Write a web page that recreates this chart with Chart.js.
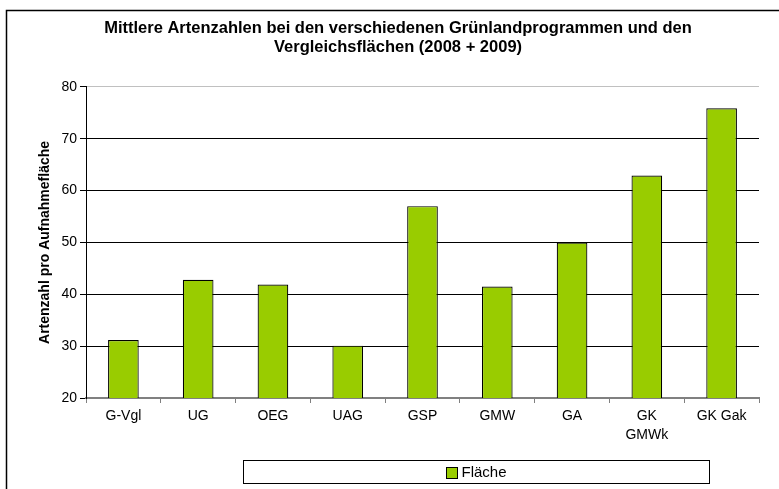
<!DOCTYPE html>
<html>
<head>
<meta charset="utf-8">
<script src="https://cdn.jsdelivr.net/npm/chart.js@4.4.1/dist/chart.umd.min.js"></script>
<style>
  body { margin: 0; background: #fff; }
  #wrap { width: 779px; height: 489px; }
</style>
</head>
<body>
<div id="wrap"><canvas id="artenChart" width="779" height="489"></canvas></div>
<script>
const categories = ['G-Vgl', 'UG', 'OEG', 'UAG', 'GSP', 'GMW', 'GA', ['GK', 'GMWk'], 'GK Gak'];
const flaecheValues = [31.2, 42.8, 41.9, 30.1, 57.0, 41.5, 50.0, 62.9, 75.9];
const yTicks = [20, 30, 40, 50, 60, 70, 80];
const seriesLabel = 'Fläche';
const barColor = '#99CC00';

document.addEventListener('DOMContentLoaded', function() {
    const font = 'Arial, "Liberation Sans", sans-serif';

    // white background + the outer frame of the chart object
    const framePlugin = {
        id: 'frame',
        beforeDraw: function(chart) {
            const ctx = chart.ctx;
            ctx.save();
            ctx.fillStyle = '#fff';
            ctx.fillRect(0, 0, chart.width, chart.height);
            ctx.strokeStyle = '#000';
            ctx.lineWidth = 1.5;
            ctx.beginPath();
            ctx.moveTo(6.5, chart.height);
            ctx.lineTo(6.5, 10.5);
            ctx.lineTo(chart.width, 10.5);
            ctx.stroke();
            ctx.restore();
        }
    };

    // legend in a box below the chart, like the original
    const boxLegend = {
        id: 'boxLegend',
        afterDraw: function(chart) {
            const ctx = chart.ctx;
            const ds = chart.data.datasets[0];
            const box = { x: 243.5, y: 460.5, w: 466, h: 23 };
            ctx.save();
            ctx.strokeStyle = '#000';
            ctx.lineWidth = 1;
            ctx.strokeRect(box.x, box.y, box.w, box.h);
            ctx.font = '15px ' + font;
            const tw = ctx.measureText(ds.label).width;
            const sw = 11;
            const total = sw + 4 + tw;
            const sx = Math.round(box.x + box.w / 2 - total / 2) + 0.5;
            const sy = Math.round(box.y + box.h / 2 - sw / 2) + 0.5;
            ctx.fillStyle = ds.backgroundColor;
            ctx.fillRect(sx, sy, sw, sw);
            ctx.strokeRect(sx, sy, sw, sw);
            ctx.fillStyle = '#000';
            ctx.textBaseline = 'middle';
            ctx.fillText(ds.label, sx + sw + 4, box.y + box.h / 2 + 1);
            ctx.restore();
        }
    };

    const ctx = document.getElementById('artenChart').getContext('2d');
    new Chart(ctx, {
        type: 'bar',
        data: {
            labels: categories,
            datasets: [{
                label: seriesLabel,
                data: flaecheValues,
                backgroundColor: barColor,
                borderColor: '#000',
                borderWidth: 1.2,
                borderSkipped: false,
                barPercentage: 0.41,
                categoryPercentage: 1.0
            }]
        },
        options: {
            responsive: false,
            animation: false,
            layout: { padding: { left: 37, right: 20, top: 0, bottom: 0 } },
            plugins: {
                legend: { display: false },
                tooltip: { enabled: false },
                title: {
                    display: true,
                    text: ['Mittlere Artenzahlen bei den verschiedenen Grünlandprogrammen und den',
                           'Vergleichsflächen (2008 + 2009)'],
                    color: '#000',
                    font: { family: font, size: 16.5, weight: 'bold', lineHeight: 1.21 },
                    padding: { top: 18, bottom: 29 }
                }
            },
            scales: {
                x: {
                    afterFit: function(scale) { scale.height = 91; },
                    grid: {
                        offset: true,
                        drawOnChartArea: false,
                        tickLength: 5,
                        tickColor: '#808080'
                    },
                    border: { color: '#808080', width: 2 },
                    ticks: {
                        color: '#000',
                        padding: 3,
                        maxRotation: 0,
                        autoSkip: false,
                        font: { family: font, size: 14, lineHeight: 1.4 }
                    }
                },
                y: {
                    min: 20,
                    max: 80,
                    afterFit: function(scale) { scale.width = 49; },
                    afterBuildTicks: function(scale) {
                        scale.ticks = yTicks.map(function(v) { return { value: v }; });
                    },
                    grid: {
                        color: function(c) { return c.tick && c.tick.value === 80 ? '#c0c0c0' : '#000'; },
                        tickColor: '#000',
                        tickLength: 6
                    },
                    border: { color: '#000', width: 1 },
                    ticks: {
                        color: '#000',
                        padding: 3,
                        font: { family: font, size: 14 }
                    },
                    title: {
                        display: true,
                        text: 'Artenzahl pro Aufnahmefläche',
                        color: '#000',
                        padding: 0,
                        font: { family: font, size: 14, weight: 'bold' }
                    }
                }
            }
        },
        plugins: [framePlugin, boxLegend]
    });
});
</script>
</body>
</html>
